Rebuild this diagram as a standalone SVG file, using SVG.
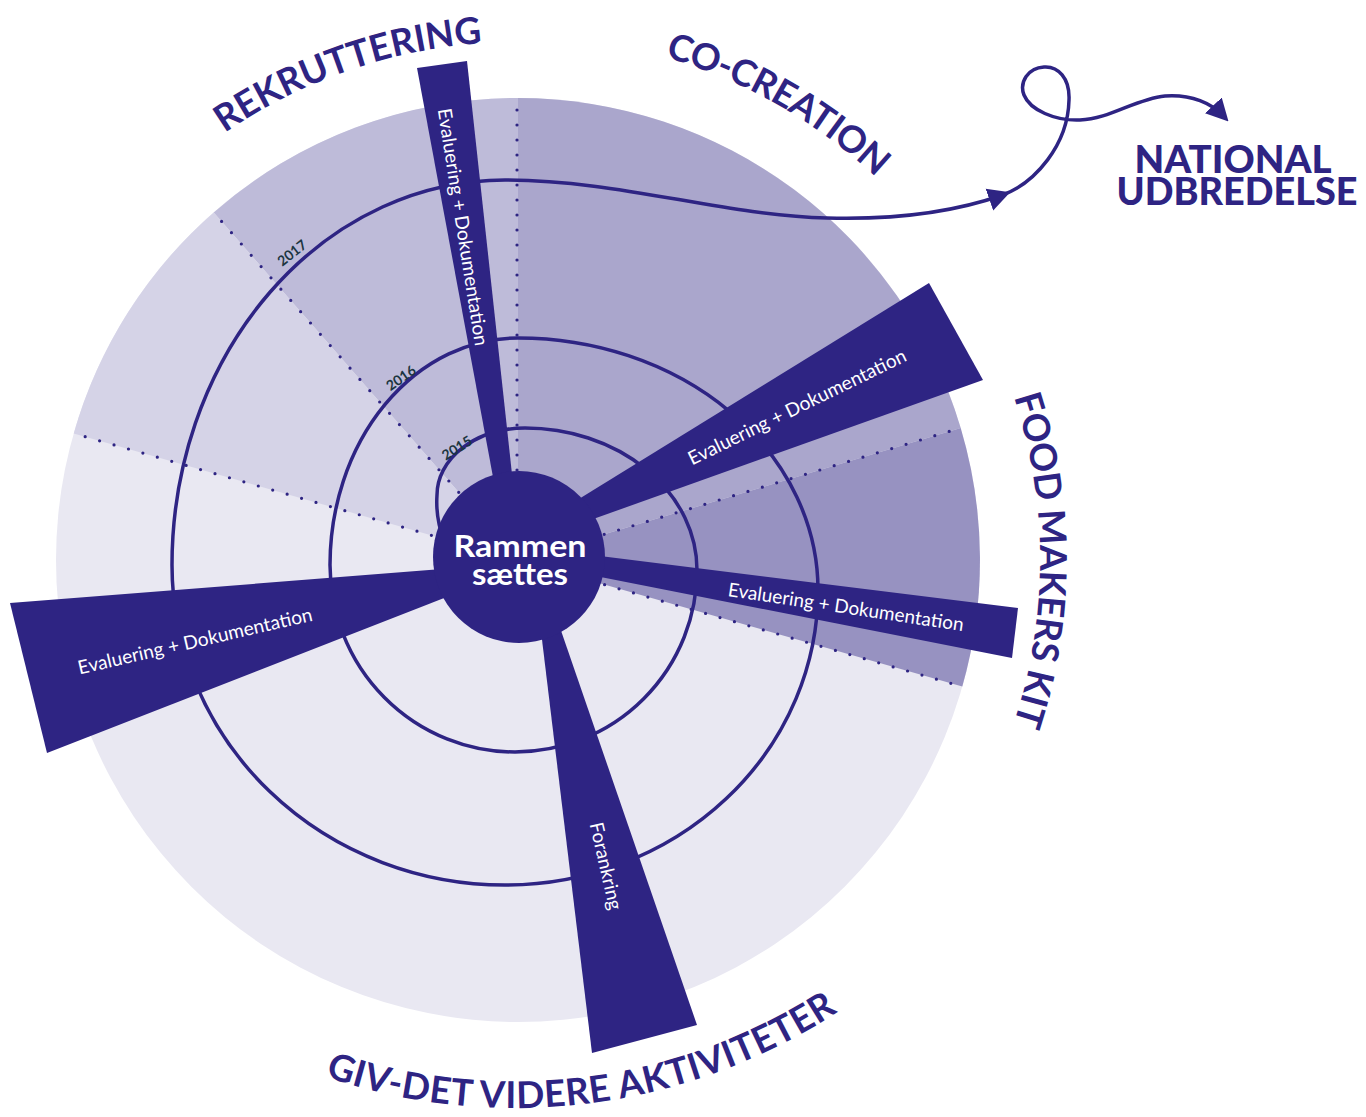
<svg xmlns="http://www.w3.org/2000/svg" width="1366" height="1117" viewBox="0 0 1366 1117">
  <style>
    .dots{fill:none;stroke:#2e2483;stroke-width:3.2;stroke-linecap:round;stroke-dasharray:0 15}
    .spiral{fill:none;stroke:#2e2483;stroke-width:3.5}
    .bar{fill:#2e2483}
    .bartxt{fill:#ffffff;font-family:Lato,"Open Sans","Liberation Sans",sans-serif;font-size:19px;text-anchor:middle}
    .label{fill:#2e2483;font-family:Lato,"Liberation Sans",sans-serif;font-weight:700;font-size:37px}
    .year{fill:#1b3540;font-family:Lato,"Liberation Sans",sans-serif;font-weight:700;font-size:14px;text-anchor:middle}
    .hubtxt{fill:#ffffff;font-family:Lato,"Liberation Sans",sans-serif;font-weight:700;font-size:31px;text-anchor:middle}
    .title{fill:#2e2483;font-family:Lato,"Liberation Sans",sans-serif;font-weight:900;font-size:37px;text-anchor:middle}
  </style>
  <defs>
    <marker id="arrow" markerUnits="userSpaceOnUse" markerWidth="22" markerHeight="24" viewBox="0 -12 22 24" refX="14" refY="0" orient="auto">
      <path d="M0,-11.5 L22,0 L0,11.5 Z" fill="#2e2483"/>
    </marker>
    <!-- baselines for the curved phase labels -->
    <path id="arc-rek" d="M224.6,133.1 A518,518 0 0 1 482.8,43.2"/>
    <path id="arc-co" d="M665.1,57.1 A524,524 0 0 1 876,177.4"/>
    <path id="arc-food" d="M1013.9,397 A522,522 0 0 1 1013.6,723.9"/>
    <path id="arc-giv" d="M325,1076.6 A590,590 0 0 0 838,1011.7"/>
  </defs>

  <!-- phase sectors of the wheel -->
  <g id="wheel">
    <circle cx="518" cy="560" r="462" fill="#e9e8f2"/>
    <path d="M518,560 L960.7,428 A462,462 0 0 0 518,98 Z" fill="#aaa6cc"/>
    <path d="M518,560 L518,98 A462,462 0 0 0 213.7,212.4 Z" fill="#bebbd9"/>
    <path d="M518,560 L213.7,212.4 A462,462 0 0 0 73.7,433.4 Z" fill="#d5d3e7"/>
    <path d="M518,560 L962.3,686.6 A462,462 0 0 0 960.7,428 Z" fill="#9792c1"/>
  </g>

  <!-- dotted sector boundaries -->
  <g id="boundaries">
    <line class="dots" x1="517" y1="470" x2="517" y2="98"/>
    <line class="dots" x1="458.7" y1="492.3" x2="213.7" y2="212.4"/>
    <line class="dots" x1="431.4" y1="535.3" x2="73.7" y2="433.4"/>
    <line class="dots" x1="604.2" y1="534.3" x2="960.7" y2="428"/>
    <line class="dots" x1="604.6" y1="584.7" x2="962.3" y2="686.6"/>
  </g>

  <!-- spiral timeline and its exit to the national roll-out -->
  <g id="connectors">
    <path class="spiral" marker-end="url(#arrow)" d="M444,540 C438,525 436,510 437,495 A88,67 0 0 1 525,428 A172,142 0 0 1 697,570 A182,182 0 0 1 515,752 A185,187 0 0 1 330,565 A188,227 0 0 1 518,338 A300,252 0 0 1 818,590 A313,295 0 0 1 505,885 A333,320 0 0 1 172,565 A333,385 0 0 1 505,180 C620,180 720,215 827,218 C900,220 960,210 1002.6,195"/>
    <path class="spiral" marker-end="url(#arrow)" d="M1002.6,195 C1035,183 1068,145 1069,100 C1070,78 1058,66 1044,67 C1028,68 1019,82 1024,95 C1030,110 1055,121 1080,120 C1110,119 1135,99 1165,96 C1192,94 1212,104 1223,115.6"/>
  </g>

  <!-- year marks on the spiral -->
  <g id="years">
    <text class="year" transform="translate(457,448) rotate(-32)" dy="0.35em">2015</text>
    <text class="year" transform="translate(401,378) rotate(-35)" dy="0.35em">2016</text>
    <text class="year" transform="translate(292,253) rotate(-38)" dy="0.35em">2017</text>
  </g>

  <!-- evaluation / anchoring spokes -->
  <g id="spoke-rekruttering">
    <polygon class="bar" points="417,68 467,61 517,520 501,520"/>
    <text class="bartxt" transform="translate(463,227) rotate(81)" dy="0.35em" textLength="240" lengthAdjust="spacingAndGlyphs">Evaluering + Dokumentation</text>
  </g>
  <g id="spoke-cocreation">
    <polygon class="bar" points="929,283 983,380 540,538 540,523"/>
    <text class="bartxt" transform="translate(797,407) rotate(-26)" dy="0.35em" textLength="240" lengthAdjust="spacingAndGlyphs">Evaluering + Dokumentation</text>
  </g>
  <g id="spoke-foodmakers">
    <polygon class="bar" points="1018,608 1012,658 560,569 560,551"/>
    <text class="bartxt" transform="translate(846,607) rotate(8.5)" dy="0.35em" textLength="238" lengthAdjust="spacingAndGlyphs">Evaluering + Dokumentation</text>
  </g>
  <g id="spoke-left">
    <polygon class="bar" points="10,603 480,566 480,584 47,753"/>
    <text class="bartxt" transform="translate(195,641) rotate(-13)" dy="0.35em" textLength="240" lengthAdjust="spacingAndGlyphs">Evaluering + Dokumentation</text>
  </g>
  <g id="spoke-forankring">
    <polygon class="bar" points="536,590 547,590 697,1025 592,1053"/>
    <text class="bartxt" transform="translate(606,866) rotate(77)" dy="0.35em">Forankring</text>
  </g>

  <!-- centre -->
  <g id="hub">
    <circle cx="519" cy="557" r="86" fill="#2e2483"/>
    <text class="hubtxt" x="520" y="557" textLength="133" lengthAdjust="spacingAndGlyphs">Rammen</text>
    <text class="hubtxt" x="520" y="585" textLength="96" lengthAdjust="spacingAndGlyphs">sættes</text>
  </g>

  <!-- phase labels -->
  <g id="label-rekruttering">
    <text class="label"><textPath href="#arc-rek" textLength="276" lengthAdjust="spacing">REKRUTTERING</textPath></text>
  </g>
  <g id="label-cocreation">
    <text class="label"><textPath href="#arc-co" textLength="245" lengthAdjust="spacing">CO-CREATION</textPath></text>
  </g>
  <g id="label-foodmakers">
    <text class="label"><textPath href="#arc-food" textLength="332" lengthAdjust="spacing">FOOD MAKERS KIT</textPath></text>
  </g>
  <g id="label-givdet">
    <text class="label"><textPath href="#arc-giv" textLength="535" lengthAdjust="spacing">GIV-DET VIDERE AKTIVITETER</textPath></text>
  </g>

  <g id="national">
    <text class="title" x="1233" y="173" textLength="197" lengthAdjust="spacingAndGlyphs">NATIONAL</text>
    <text class="title" x="1237" y="205" textLength="241" lengthAdjust="spacingAndGlyphs">UDBREDELSE</text>
  </g>
</svg>
